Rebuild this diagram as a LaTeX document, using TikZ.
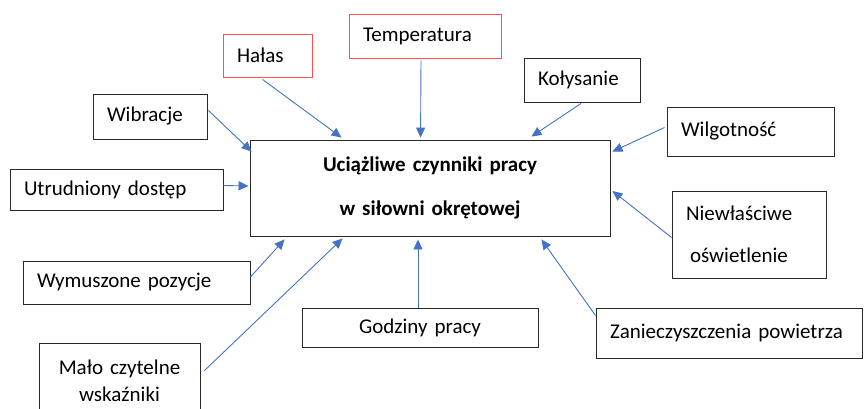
\documentclass[tikz,border=0pt]{standalone}
\usepackage{fontspec}
\setmainfont{Carlito}
\usetikzlibrary{positioning,arrows.meta,calc}
\definecolor{arrblue}{RGB}{68,114,196}
\definecolor{warnred}{RGB}{255,80,80}
\definecolor{framegray}{RGB}{40,40,40}

\begin{document}
\begin{tikzpicture}[x=1pt,y=-1pt,
factor/.style={draw=framegray,line width=.9pt,inner xsep=14pt,inner ysep=0pt,align=left,
font=\fontsize{21}{26}\selectfont},
hot/.style={factor,draw=warnred},
arr/.style={-{Triangle[length=10pt,width=9pt]},line width=.9pt,draw=arrblue}]
\clip (0,0) rectangle (864,409);
\node[factor,text width=332pt,minimum height=96pt,align=center,
font=\fontsize{21}{44}\selectfont\bfseries] (main) at (430,188) {Uciążliwe czynniki pracy\\w siłowni okrętowej};
\node[hot,text width=61pt,minimum height=43pt] (halas) at (267.5,55.5) {Hałas};
\node[hot,text width=124pt,minimum height=44pt] (temp) at (425,36) {Temperatura};
\node[factor,text width=86pt,minimum height=45pt] (wibr) at (150,116.5) {Wibracje};
\node[factor,text width=185pt,minimum height=41pt] (utrud) at (116.5,189.5) {Utrudniony dostęp};
\node[factor,text width=88pt,minimum height=44pt] (kolys) at (582,80) {Kołysanie};
\node[factor,text width=139pt,minimum height=49pt] (wilg) at (750.5,131.5) {Wilgotność};
\node[factor,text width=126pt,minimum height=87pt,font=\fontsize{21}{42}\selectfont] (niew) at (749,234.5) {Niewłaściwe\\\hspace{4pt}oświetlenie};
\node[factor,text width=238pt,minimum height=50pt] (zanie) at (729,333) {Zanieczyszczenia powietrza};
\node[factor,text width=208pt,minimum height=39pt,align=center] (godz) at (420,327.5) {Godziny pracy};
\node[factor,text width=199pt,minimum height=43pt] (wym) at (136.5,282.5) {Wymuszone pozycje};
\node[factor,text width=133pt,minimum height=76pt,align=center,
font=\fontsize{21}{27}\selectfont] (malo) at (119.5,381) {Mało czytelne\\wskaźniki};
% strzalki do ramki glownej
\draw[arr]($(halas.south)+(-5,2)$)--($(main.north west)+(92,-2)$);
\draw[arr]($(temp.south)+(-4,2)$)--($(main.north west)+(171,-2)$);
\draw[arr]($(wibr.east)+(1,-6)$)--($(main.north west)+(2,12)$);
\draw[arr]($(utrud.east)+(0,-4)$)--($(main.west)+(-1,-2)$);
\draw[arr]($(kolys.south)+(-1,1)$)--($(main.north east)+(-79,-3)$);
\draw[arr]($(wilg.west)+(-2,-4)$)--($(main.north east)+(2,12)$);
\draw[arr]($(niew.west)+(0,3)$)--($(main.east)+(2,3)$);
\draw[arr]($(zanie.north west)+(0,8)$)--($(main.south east)+(-69,3)$);
\draw[arr]($(godz.north)+(-2,0)$)--($(main.south)+(-12,3)$);
\draw[arr]($(malo.north east)+(4,28)$)--($(main.south west)+(93,2)$);
\draw[arr]($(wym.east)+(0,-5.5)$)--($(main.south west)+(35,3)$);
\end{tikzpicture}
\end{document}
